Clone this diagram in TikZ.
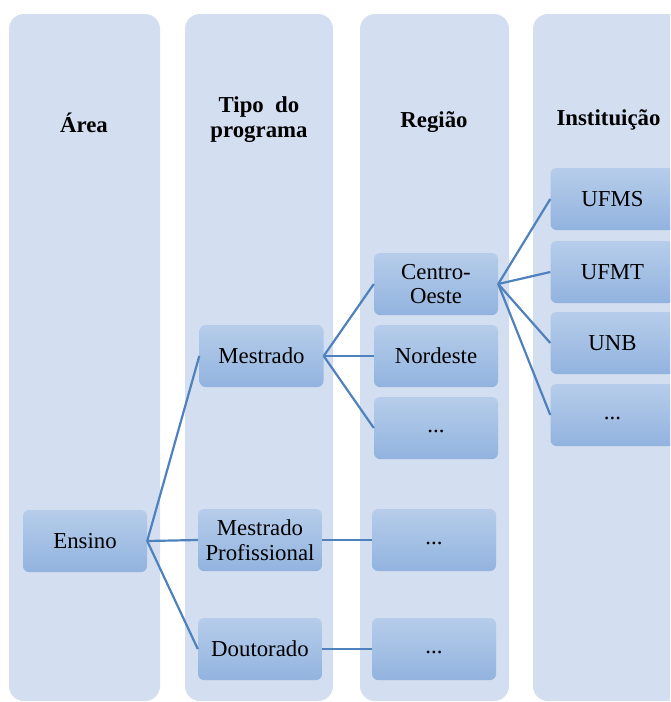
\documentclass[tikz,border=0pt]{standalone}
\usepackage{fontspec}
\setmainfont{Liberation Serif}
\definecolor{colbg}{HTML}{D3DEF0}
\definecolor{boxtop}{HTML}{B6CDEA}
\definecolor{boxbot}{HTML}{92B3DF}
\definecolor{linkc}{HTML}{4F81BD}
\tikzset{
  colbox/.style={fill=colbg,draw=none,rounded corners=15pt},
  item/.style={rounded corners=6pt,top color=boxtop,bottom color=boxbot,
    minimum width=124pt,minimum height=62pt,inner sep=0pt,align=center,
    font=\fontsize{22.8}{24.5}\selectfont},
  head/.style={align=center,font=\fontsize{22.8}{25}\selectfont\bfseries},
  link/.style={draw=linkc,line width=2.2pt},
}
\begin{document}
\begin{tikzpicture}[x=1pt,y=-1pt]
\clip (0,0) rectangle (670,702);

%%%% columns
%%%%
\foreach \a \b in{
9/160,185/333,360/509,533/720%
}{
\fill[colbox] (\a,14) rectangle (\b,701);
}

%%%% headers
%%%%
\node[head](harea) at(84,123) {Área};
\node[head](htipo) at(259,120) {Tipo\ \ do\\programa};
\node[head](hreg) at(434,122) {Região};
\node[head](hinst) at(608.5,120) {Instituição};

%%%% items
%%%%
\node[item](ensino) at(85,541) {Ensino};

\node[item](mestrado) at(261.5,356) {Mestrado};
\node[item](mprof) at(260,540) {Mestrado\\Profissional};
\node[item](dout) at(260,649) {Doutorado};

\node[item](co) at(436,284) {Centro-\\Oeste};
\node[item](ne) at(436,356) {Nordeste};
\node[item](r1) at(436,428) {\strut...};
\node[item](r2) at(434,540) {\strut...};
\node[item](r3) at(434,649) {\strut...};

\node[item](ufms) at(612.5,199) {UFMS};
\node[item](ufmt) at(612.5,272) {UFMT};
\node[item](unb) at(612.5,343) {UNB};
\node[item](i1) at(612.5,415) {\strut...};

%%%% links
%%%%
\foreach \u \v in{
ensino/mestrado,ensino/mprof,ensino/dout,%
mestrado/co,mestrado/ne,mestrado/r1,mprof/r2,dout/r3,%
co/ufms,co/ufmt,co/unb,co/i1%
}{
\draw[link] (\u.east) -- (\v.west);
}

\end{tikzpicture}
\end{document}
